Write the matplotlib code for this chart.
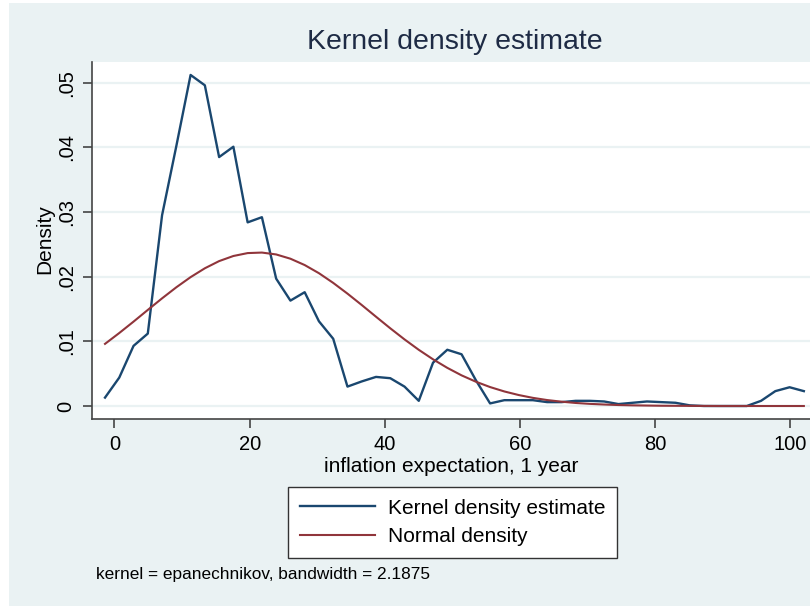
import matplotlib
matplotlib.use('Agg')
import matplotlib.pyplot as plt
from matplotlib.patches import Rectangle

plt.rcParams['font.family'] = ['Liberation Sans', 'DejaVu Sans']

# evaluation grid (50 points) and the two densities
grid_x = [-1.40, 0.71, 2.82, 4.93, 7.04, 9.15, 11.26, 13.37, 15.48, 17.59,
          19.70, 21.81, 23.92, 26.03, 28.14, 30.25, 32.36, 34.47, 36.58, 38.69,
          40.80, 42.91, 45.02, 47.13, 49.24, 51.35, 53.46, 55.57, 57.68, 59.79,
          61.90, 64.01, 66.12, 68.23, 70.34, 72.45, 74.56, 76.67, 78.78, 80.89,
          83.00, 85.11, 87.22, 89.33, 91.44, 93.55, 95.66, 97.77, 99.88, 101.99]

kde_y = [0.0013, 0.0044, 0.0093, 0.0112, 0.0295, 0.0402, 0.0512, 0.0496, 0.0385, 0.0401,
         0.0284, 0.0292, 0.0197, 0.0163, 0.0176, 0.0131, 0.0104, 0.0030, 0.0038, 0.0045,
         0.0043, 0.0030, 0.0008, 0.0067, 0.0087, 0.0080, 0.0040, 0.0004, 0.0009, 0.0009,
         0.0009, 0.0006, 0.0006, 0.0008, 0.0008, 0.0007, 0.0003, 0.0005, 0.0007, 0.0006,
         0.0005, 0.0001, 0.0, 0.0, 0.0, 0.0, 0.0008, 0.0023, 0.0029, 0.0023]

normal_y = [0.00961, 0.01129, 0.01305, 0.01486, 0.01665, 0.01836, 0.01993, 0.02130, 0.02241, 0.02320,
            0.02365, 0.02373, 0.02344, 0.02278, 0.02180, 0.02054, 0.01904, 0.01738, 0.01562, 0.01381,
            0.01202, 0.01030, 0.00869, 0.00722, 0.00590, 0.00474, 0.00376, 0.00293, 0.00225, 0.00170,
            0.00126, 0.00092, 0.00067, 0.00047, 0.00033, 0.00023, 0.00015, 0.00010, 0.00007, 0.00004,
            0.00003, 0.00002, 0.00001, 0.0, 0.0, 0.0, 0.0, 0.0, 0.0, 0.0]

x_ticks = [0, 20, 40, 60, 80, 100]
y_ticks = [0, 0.01, 0.02, 0.03, 0.04, 0.05]
y_ticklabels = ['0', '.01', '.02', '.03', '.04', '.05']

bg = '#eaf2f3'
navy = '#1a476f'
maroon = '#90353b'
axcol = '#444444'

W, H = 810, 606
fig = plt.figure(figsize=(W / 100, H / 100), dpi=100, facecolor='white')
fig.patches.append(Rectangle((9 / W, 0), 1, 1 - 3 / H, transform=fig.transFigure,
                             facecolor=bg, edgecolor='none', zorder=-10))

ax = fig.add_axes([91.7 / W, 1 - 419 / H, 1 - 91.7 / W, (419 - 61.7) / H])
ax.set_facecolor('white')

ax.plot(grid_x, kde_y, color=navy, lw=1.7, label='Kernel density estimate', zorder=3)
ax.plot(grid_x, normal_y, color=maroon, lw=1.5, label='Normal density', zorder=3)

ax.set_xlim(-3.37, 102.9)
ax.set_ylim(-0.00201, 0.05325)
ax.set_xticks(x_ticks)
ax.set_yticks(y_ticks)
ax.set_yticklabels(y_ticklabels, rotation=90, va='center')
ax.tick_params(axis='both', direction='out', length=6.5, width=1.2, color=axcol,
               labelsize=14.5, labelcolor='black', pad=5)
ax.yaxis.grid(True, color=bg, lw=1.6, zorder=0)
ax.set_axisbelow(True)

for s in ['top', 'right']:
    ax.spines[s].set_visible(False)
for s in ['left', 'bottom']:
    ax.spines[s].set_color(axcol)
    ax.spines[s].set_linewidth(1.2)

ax.set_xlabel('inflation expectation, 1 year', fontsize=15, labelpad=2)
fig.text(45 / W, 1 - 239 / H, 'Density', rotation=90, ha='center', va='center', fontsize=15)

fig.text(455 / W, 1 - 42 / H, 'Kernel density estimate', ha='center', va='center',
         fontsize=20.5, color='#1e2b45')

leg = ax.legend(loc='upper left', bbox_to_anchor=(288.3 / W, 1 - 487.3 / H),
                bbox_transform=fig.transFigure, fontsize=15, frameon=True,
                fancybox=False, edgecolor='#333333', framealpha=1, borderaxespad=0,
                handlelength=3.6, handletextpad=0.64, borderpad=0.55, labelspacing=0.45)
leg.get_frame().set_linewidth(1.0)

fig.text(95.5 / W, 1 - 575 / H, 'kernel = epanechnikov, bandwidth = 2.1875', ha='left',
         va='center', fontsize=12.4)

fig.savefig('out.png', dpi=100, facecolor=fig.get_facecolor())
